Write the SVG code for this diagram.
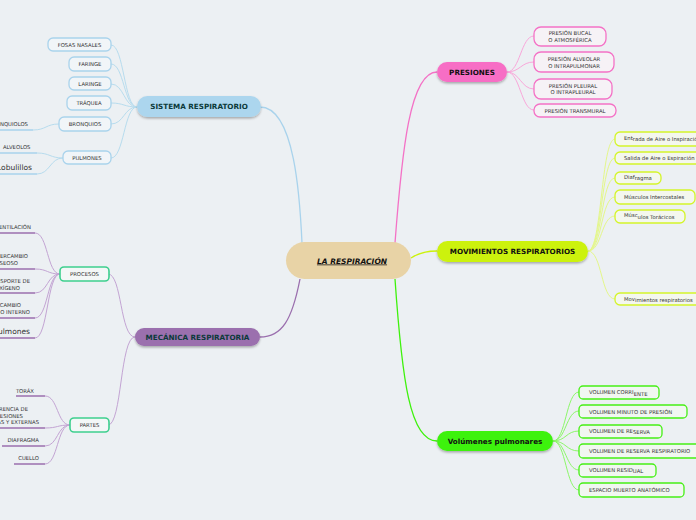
<svg xmlns="http://www.w3.org/2000/svg" width="696" height="520" viewBox="0 0 696 520">
<defs>
<filter id="sh" x="-10%" y="-30%" width="120%" height="170%"><feDropShadow dx="0" dy="1.5" stdDeviation="1" flood-color="#000" flood-opacity="0.3"/></filter>
<style>
text{font-family:"DejaVu Sans","Liberation Sans",sans-serif;}
.h{font-size:7.2px;font-weight:bold;text-anchor:middle;}
.c{font-size:5.3px;fill:#333;}
.m{text-anchor:middle;}
.big{font-size:7.5px;fill:#333;}
.bl{fill:#f1f5f8;stroke:#a9d3ec;stroke-width:1.3;}
.pk{fill:#f6f2f6;stroke:#f472c6;stroke-width:1.3;}
.yg{fill:#f4f7ee;stroke:#d4f52a;stroke-width:1.3;}
.gr{fill:#f1f7f1;stroke:#46f015;stroke-width:1.3;}
.mt{fill:#f4f7f7;stroke:#3ecf8e;stroke-width:1.6;}
#connectors path{fill:none;stroke-width:1;}
.cb{stroke:#b7dcee;}
.cp{stroke:#c3a4d3;}
.ck{stroke:#f9a7da;}
.cy{stroke:#e4f78a;}
.cg{stroke:#8cf76a;}
.ub{stroke:#a9d3ec;stroke-width:1.5;}
.up{stroke:#9b6fae;stroke-width:1.5;}
</style>
</defs>
<rect width="696" height="520" fill="#ecf0f3"/>
<g id="connectors">
<path class="cb" d="M260,107 C295,107 300,200 302,243" style="stroke:#a9d3ec;stroke-width:1.3"/>
<path class="cp" d="M300,279 C292,320 282,337 260,337" style="stroke:#9b6fae;stroke-width:1.3"/>
<path class="ck" d="M395,243 C402,150 410,72 437,72" style="stroke:#f472c6;stroke-width:1.3"/>
<path class="cy" d="M411,258 C420,252 428,251 437,251" style="stroke:#ccf20c;stroke-width:1.3"/>
<path class="cg" d="M395,279 C402,380 410,441 437,441" style="stroke:#3ef20c;stroke-width:1.3"/>
<path class="cb" d="M137,107 C124,107 124,45 111,45"/>
<path class="cb" d="M137,107 C124,107 124,64 111,64"/>
<path class="cb" d="M137,107 C124,107 124,84 111,84"/>
<path class="cb" d="M137,107 C124,107 124,103 111,103"/>
<path class="cb" d="M137,107 C124,107 124,124 111,124"/>
<path class="cb" d="M137,107 C124,107 124,158 111,158"/>
<path class="cb" d="M59,124 C46,124 46,130 33,130"/>
<path class="cb" d="M63,158 C50,158 50,153 37,153"/>
<path class="cb" d="M63,158 C50,158 50,174 37,174"/>
<path class="cp" d="M135,337 C120,337 122,274 108,274"/>
<path class="cp" d="M135,337 C120,337 122,425 108,425"/>
<path class="cp" d="M60,274 C47,274 48,233 35,233"/>
<path class="cp" d="M60,274 C47,274 48,269 35,269"/>
<path class="cp" d="M60,274 C47,274 48,293 35,293"/>
<path class="cp" d="M60,274 C47,274 48,318 35,318"/>
<path class="cp" d="M60,274 C47,274 48,338 35,338"/>
<path class="cp" d="M70,425 C57,425 58,396 45,396"/>
<path class="cp" d="M70,425 C57,425 58,428 45,428"/>
<path class="cp" d="M70,425 C57,425 58,446 45,446"/>
<path class="cp" d="M70,425 C57,425 58,464 45,464"/>
<path class="ck" d="M507,72 C520,72 521,36 534,36"/>
<path class="ck" d="M507,72 C520,72 521,62 534,62"/>
<path class="ck" d="M507,72 C520,72 521,89 534,89"/>
<path class="ck" d="M507,72 C520,72 521,110 534,110"/>
<path class="cy" d="M588,251 C602,251 601,139 615,139"/>
<path class="cy" d="M588,251 C602,251 601,158 615,158"/>
<path class="cy" d="M588,251 C602,251 601,178 615,178"/>
<path class="cy" d="M588,251 C602,251 601,197 615,197"/>
<path class="cy" d="M588,251 C602,251 601,216 615,216"/>
<path class="cy" d="M588,251 C602,251 601,299 615,299"/>
<path class="cg" d="M553,441 C566,441 566,392 579,392"/>
<path class="cg" d="M553,441 C566,441 566,411 579,411"/>
<path class="cg" d="M553,441 C566,441 566,431 579,431"/>
<path class="cg" d="M553,441 C566,441 566,451 579,451"/>
<path class="cg" d="M553,441 C566,441 566,470 579,470"/>
<path class="cg" d="M553,441 C566,441 566,490 579,490"/>
<line class="ub" x1="0" y1="130" x2="33" y2="130"/>
<line class="ub" x1="0" y1="153" x2="37" y2="153"/>
<line class="ub" x1="0" y1="174" x2="37" y2="174"/>
<line class="up" x1="0" y1="233" x2="35" y2="233"/>
<line class="up" x1="0" y1="269" x2="35" y2="269"/>
<line class="up" x1="0" y1="293" x2="35" y2="293"/>
<line class="up" x1="0" y1="318" x2="35" y2="318"/>
<line class="up" x1="0" y1="338" x2="35" y2="338"/>
<line class="up" x1="16" y1="396" x2="45" y2="396"/>
<line class="up" x1="0" y1="428" x2="45" y2="428"/>
<line class="up" x1="2" y1="446" x2="45" y2="446"/>
<line class="up" x1="14" y1="464" x2="45" y2="464"/>
</g>
<g id="center"><rect x="286" y="242" width="125" height="37" rx="18.5" fill="#e8d3a6"/><text x="352" y="263.5" class="h" style="font-size:7.5px;font-style:italic;text-decoration:underline;fill:#111">LA RESPIRACIÓN</text></g>
<g id="sistema"><rect x="137" y="96" width="124" height="21" rx="10.5" fill="#acd6ee" filter="url(#sh)"/><text x="199" y="109" class="h" fill="#0b3a3a">SISTEMA RESPIRATORIO</text></g>
<g id="fosas"><rect x="48" y="38" width="63" height="13" rx="5" class="bl"/><text x="79.5" y="46.8" class="c m">FOSAS NASALES</text></g>
<g id="faringe"><rect x="69" y="57" width="42" height="14" rx="5" class="bl"/><text x="90" y="66.2" class="c m">FARINGE</text></g>
<g id="laringe"><rect x="69" y="77" width="42" height="13" rx="5" class="bl"/><text x="90" y="85.8" class="c m">LARINGE</text></g>
<g id="traquea"><rect x="67" y="96" width="44" height="14" rx="5" class="bl"/><text x="89" y="105" class="c m">TRÁQUEA</text></g>
<g id="bronquios"><rect x="59" y="117" width="52" height="14" rx="5" class="bl"/><text x="85" y="126" class="c m">BRONQUIOS</text></g>
<g id="pulmones"><rect x="63" y="151" width="48" height="13" rx="5" class="bl"/><text x="87" y="159.8" class="c m">PULMONES</text></g>
<g id="bronquiolos"><text x="28" y="126" class="c" text-anchor="end">BRONQUIOLOS</text></g>
<g id="alveolos"><text x="3" y="149" class="c">ALVEOLOS</text></g>
<g id="lobulillos"><text x="32" y="169.5" class="big" text-anchor="end">Lobulillos</text></g>
<g id="mecanica"><rect x="135" y="328" width="125" height="18" rx="9" fill="#9b6fae" filter="url(#sh)"/><text x="197.5" y="339.5" class="h" fill="#0b3a3a">MECÁNICA RESPIRATORIA</text></g>
<g id="procesos"><rect x="60" y="267" width="49" height="14" rx="4" class="mt"/><text x="84.5" y="276" class="c m">PROCESOS</text></g>
<g id="partes"><rect x="70" y="418" width="39" height="14" rx="4" class="mt"/><text x="89.5" y="427" class="c m">PARTES</text></g>
<g id="ventilacion"><text x="31" y="229" class="c" text-anchor="end">VENTILACIÓN</text></g>
<g id="intercambio"><text x="28" y="258" class="c" text-anchor="end">INTERCAMBIO</text><text x="18" y="265" class="c" text-anchor="end">GASEOSO</text></g>
<g id="transporte"><text x="30" y="283" class="c" text-anchor="end">TRANSPORTE DE</text><text x="20" y="289.5" class="c" text-anchor="end">OXÍGENO</text></g>
<g id="intercambio2"><text x="21" y="307" class="c" text-anchor="end">INTERCAMBIO</text><text x="30" y="314" class="c" text-anchor="end">GASEOSO INTERNO</text></g>
<g id="pulmones2"><text x="30" y="334" class="big" text-anchor="end">Pulmones</text></g>
<g id="torax"><text x="34" y="393" class="c" text-anchor="end">TORÁX</text></g>
<g id="diferencia"><text x="28" y="411" class="c" text-anchor="end">DIFERENCIA DE</text><text x="23" y="417.5" class="c" text-anchor="end">PRESIONES</text><text x="39" y="424" class="c" text-anchor="end">INTERNAS Y EXTERNAS</text></g>
<g id="diafragma2"><text x="39" y="442" class="c" text-anchor="end">DIAFRAGMA</text></g>
<g id="cuello"><text x="39" y="460" class="c" text-anchor="end">CUELLO</text></g>
<g id="presiones"><rect x="437" y="62" width="70" height="20" rx="10" fill="#f76ec5" filter="url(#sh)"/><text x="472" y="74.5" class="h" fill="#111">PRESIONES</text></g>
<g id="bucal"><rect x="534" y="27" width="72" height="19" rx="7" class="pk"/><text x="570" y="34.5" class="c m">PRESIÓN BUCAL</text><text x="570" y="41.5" class="c m">O ATMOSFÉRICA</text></g>
<g id="alveolar"><rect x="534" y="52" width="80" height="20" rx="7" class="pk"/><text x="574" y="60.5" class="c m">PRESIÓN ALVEOLAR</text><text x="574" y="67.5" class="c m">O INTRAPULMONAR</text></g>
<g id="pleural"><rect x="534" y="79" width="78" height="20" rx="7" class="pk"/><text x="573" y="87.5" class="c m">PRESIÓN PLEURAL</text><text x="573" y="94" class="c m">O INTRAPLEURAL</text></g>
<g id="transmural"><rect x="534" y="104" width="82" height="13" rx="6" class="pk"/><text x="575" y="112.8" class="c m">PRESIÓN TRANSMURAL</text></g>
<g id="movimientos"><rect x="437" y="241" width="151" height="21" rx="10.5" fill="#ccf20c" filter="url(#sh)"/><text x="512.5" y="254" class="h" fill="#111">MOVIMIENTOS RESPIRATORIOS</text></g>
<g id="entrada"><rect x="615" y="132" width="90" height="14" rx="5" class="yg"/><text x="624" y="139.5" class="c">Ent<tspan dy="1.5">rada de Aire o Inspiración</tspan></text></g>
<g id="salida"><rect x="615" y="152" width="90" height="12" rx="5" class="yg"/><text x="624" y="160" class="c">Salida de Aire o Espiración</text></g>
<g id="diafragma"><rect x="615" y="172" width="46" height="12" rx="5" class="yg"/><text x="624" y="178.5" class="c">Diaf<tspan dy="1.5">ragma</tspan></text></g>
<g id="intercostales"><rect x="615" y="190" width="80" height="14" rx="5" class="yg"/><text x="624" y="199" class="c">Músculos Intercostales</text></g>
<g id="toracicos"><rect x="615" y="210" width="70" height="13" rx="5" class="yg"/><text x="624" y="217" class="c">Músc<tspan dy="1.5">ulos Torácicos</tspan></text></g>
<g id="movresp"><rect x="615" y="293" width="90" height="12" rx="5" class="yg"/><text x="624" y="300.5" class="c">Mov<tspan dy="1.2">imientos respiratorios</tspan></text></g>
<g id="volumenes"><rect x="437" y="431" width="116" height="20" rx="10" fill="#3ef20c" filter="url(#sh)"/><text x="495" y="443.5" class="h" fill="#111">Volúmenes pulmonares</text></g>
<g id="corriente"><rect x="579" y="386" width="80" height="13" rx="4" class="gr"/><text x="589" y="394" class="c">VOLUMEN CORRI<tspan dy="1.5">ENTE</tspan></text></g>
<g id="minuto"><rect x="579" y="405" width="108" height="13" rx="4" class="gr"/><text x="589" y="413.5" class="c">VOLUMEN MINUTO DE PRESIÓN</text></g>
<g id="reserva"><rect x="579" y="425" width="83" height="13" rx="4" class="gr"/><text x="589" y="432.5" class="c">VOLUMEN DE RE<tspan dy="1.5">SERVA</tspan></text></g>
<g id="reservaresp"><rect x="579" y="444" width="125" height="14" rx="4" class="gr"/><text x="589" y="452.5" class="c">VOLUMEN DE RESERVA RESPIRATORIO</text></g>
<g id="residual"><rect x="579" y="464" width="77" height="13" rx="4" class="gr"/><text x="589" y="471.5" class="c">VOLUMEN RESID<tspan dy="1.5">UAL</tspan></text></g>
<g id="espacio"><rect x="579" y="483" width="105" height="14" rx="4" class="gr"/><text x="589" y="491.5" class="c">ESPACIO MUERTO ANATÓMICO</text></g>
</svg>
